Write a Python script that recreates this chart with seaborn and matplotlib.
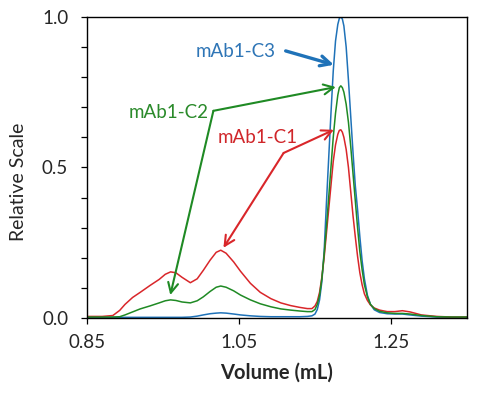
import matplotlib
matplotlib.use("Agg")
import matplotlib.pyplot as plt
import pandas as pd
import seaborn as sns

# volume axis shared by all three traces (mL)
volume = [
    0.850, 0.870, 0.884, 0.893, 0.900, 0.910, 0.920, 0.933, 0.945, 0.953,
    0.960, 0.967, 0.975, 0.986, 0.995, 1.003, 1.012, 1.020, 1.026, 1.033,
    1.043, 1.052, 1.065, 1.078, 1.092, 1.105, 1.118, 1.130, 1.140, 1.146,
    1.150, 1.153, 1.156, 1.159, 1.162, 1.165, 1.168, 1.171, 1.174, 1.177,
    1.180, 1.182, 1.184, 1.186, 1.188, 1.191, 1.194, 1.197, 1.200, 1.203,
    1.206, 1.209, 1.212, 1.215, 1.219, 1.223, 1.228, 1.235, 1.245, 1.255,
    1.265, 1.275, 1.290, 1.310, 1.330, 1.350,
]

c1 = [
    0.005, 0.005, 0.008, 0.025, 0.045, 0.068, 0.085, 0.108, 0.128, 0.145,
    0.153, 0.150, 0.135, 0.117, 0.130, 0.158, 0.192, 0.218, 0.225, 0.215,
    0.186, 0.155, 0.115, 0.085, 0.064, 0.050, 0.041, 0.035, 0.031, 0.031,
    0.040, 0.055, 0.085, 0.135, 0.200, 0.280, 0.360, 0.440, 0.520, 0.575,
    0.610, 0.623, 0.625, 0.617, 0.600, 0.560, 0.500, 0.420, 0.340, 0.270,
    0.205, 0.150, 0.110, 0.080, 0.058, 0.043, 0.033, 0.026, 0.021, 0.021,
    0.024, 0.020, 0.010, 0.005, 0.003, 0.003,
]

c2 = [
    0.003, 0.003, 0.003, 0.004, 0.010, 0.020, 0.030, 0.040, 0.050, 0.057,
    0.060, 0.058, 0.053, 0.050, 0.057, 0.070, 0.088, 0.102, 0.106, 0.102,
    0.090, 0.076, 0.060, 0.047, 0.037, 0.030, 0.026, 0.023, 0.021, 0.021,
    0.028, 0.045, 0.075, 0.130, 0.210, 0.300, 0.400, 0.500, 0.600, 0.680,
    0.740, 0.765, 0.771, 0.765, 0.750, 0.710, 0.650, 0.570, 0.480, 0.390,
    0.300, 0.220, 0.160, 0.110, 0.070, 0.045, 0.031, 0.022, 0.017, 0.015,
    0.015, 0.013, 0.008, 0.004, 0.003, 0.003,
]

c3 = [
    0.002, 0.002, 0.002, 0.002, 0.002, 0.002, 0.002, 0.002, 0.002, 0.002,
    0.002, 0.002, 0.002, 0.003, 0.006, 0.010, 0.014, 0.016, 0.017, 0.016,
    0.013, 0.010, 0.007, 0.005, 0.004, 0.004, 0.004, 0.004, 0.005, 0.007,
    0.013, 0.028, 0.060, 0.120, 0.220, 0.380, 0.530, 0.680, 0.820, 0.920,
    0.975, 0.995, 1.000, 0.993, 0.970, 0.900, 0.790, 0.670, 0.550, 0.440,
    0.360, 0.270, 0.190, 0.130, 0.075, 0.045, 0.027, 0.018, 0.014, 0.013,
    0.013, 0.010, 0.006, 0.003, 0.002, 0.002,
]

names = ["mAb1-C3", "mAb1-C1", "mAb1-C2"]
colors = {"mAb1-C3": "#1f72b8", "mAb1-C1": "#d9262a", "mAb1-C2": "#1f8a24"}
text_colors = {"mAb1-C3": "#2e75b6", "mAb1-C1": "#d0262a", "mAb1-C2": "#2a8a2a"}
y_ticks = [0.0, 0.1, 0.2, 0.3, 0.4, 0.5, 0.6, 0.7, 0.8, 0.9, 1.0]
y_tick_labels = ["0.0", "", "", "", "", "0.5", "", "", "", "", "1.0"]
x_ticks = [0.85, 1.05, 1.25]

sns.set_theme(style="ticks")
plt.rcParams["font.family"] = ["Lato", "DejaVu Sans"]

df = pd.concat([
    pd.DataFrame({"Volume": volume, "Signal": c3, "sample": "mAb1-C3"}),
    pd.DataFrame({"Volume": volume, "Signal": c1, "sample": "mAb1-C1"}),
    pd.DataFrame({"Volume": volume, "Signal": c2, "sample": "mAb1-C2"}),
], ignore_index=True)

fig = plt.figure(figsize=(4.78, 3.93), dpi=100)
ax = fig.add_axes([0.182, 0.191, 0.795, 0.766])

sns.lineplot(data=df, x="Volume", y="Signal", hue="sample", hue_order=names,
             palette=colors, sort=False, estimator=None, legend=False,
             linewidth=1.1, ax=ax)

ax.set_xlim(0.85, 1.35)
ax.set_ylim(0, 1.0)
ax.set_xticks(x_ticks)
ax.set_xticklabels([f"{t:.2f}" for t in x_ticks])
ax.set_yticks(y_ticks)
ax.set_yticklabels(y_tick_labels)
ax.tick_params(axis="both", direction="out", length=4.5, width=0.9, color="black",
               labelsize=13.5)
ax.tick_params(axis="y", pad=9)
ax.tick_params(axis="x", pad=7)
for s in ax.spines.values():
    s.set_visible(True)
    s.set_color("black")
    s.set_linewidth(1.0)

ax.set_xlabel("Volume (mL)", fontsize=14.5, fontweight="bold")
ax.xaxis.set_label_coords(0.5, -0.148)
ax.set_ylabel("Relative Scale", fontsize=14)
ax.yaxis.set_label_coords(-0.158, 0.452)

# labels and arrows
ax.text(1.0454, 0.884, "mAb1-C3", color=text_colors["mAb1-C3"], fontsize=13.5,
        ha="center", va="center")
ax.annotate("", xy=(1.1748, 0.841), xytext=(1.1114, 0.887),
            arrowprops=dict(arrowstyle="->", color=colors["mAb1-C3"], lw=2.4,
                            mutation_scale=18, shrinkA=0, shrinkB=0))

ax.text(1.0097, 0.681, "mAb1-C2", color=text_colors["mAb1-C2"], fontsize=13.5,
        ha="right", va="center")
for tip in [(1.1774, 0.767), (0.9596, 0.076)]:
    ax.annotate("", xy=tip, xytext=(1.0163, 0.688),
                arrowprops=dict(arrowstyle="->", color=colors["mAb1-C2"], lw=1.5,
                                mutation_scale=18, shrinkA=0, shrinkB=0))

ax.text(1.0751, 0.601, "mAb1-C1", color=text_colors["mAb1-C1"], fontsize=13.5,
        ha="center", va="center")
for tip in [(1.1748, 0.625), (1.0295, 0.233)]:
    ax.annotate("", xy=tip, xytext=(1.1087, 0.548),
                arrowprops=dict(arrowstyle="->", color=colors["mAb1-C1"], lw=1.5,
                                mutation_scale=18, shrinkA=0, shrinkB=0))

fig.savefig("out.png", dpi=100)
